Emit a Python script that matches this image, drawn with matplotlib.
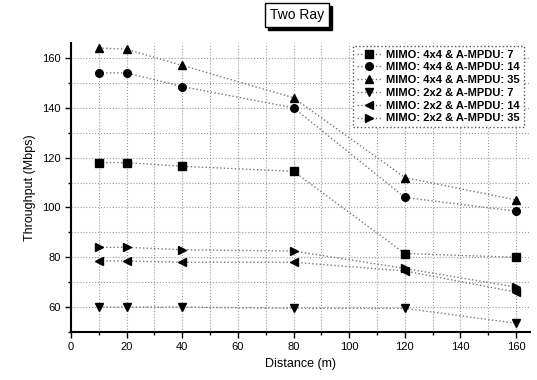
import matplotlib
matplotlib.use("Agg")
import matplotlib.pyplot as plt
from matplotlib.patches import Rectangle
from matplotlib.ticker import MultipleLocator

plt.rcParams['font.family'] = ['Liberation Sans', 'DejaVu Sans']

# distances (m)
distance = [10, 20, 40, 80, 120, 160]

# throughput (Mbps) per configuration
mimo4_ampdu7 = [118, 118, 116.5, 114.5, 81.5, 80]
mimo4_ampdu14 = [154, 154, 148.5, 140, 104, 98.5]
mimo4_ampdu35 = [164, 163.5, 157, 144, 112, 103]
mimo2_ampdu7 = [60, 60, 60, 59.5, 59.5, 53.5]
mimo2_ampdu14 = [78.5, 78.5, 78, 78, 74.5, 66]
mimo2_ampdu35 = [84, 84, 83, 82.5, 75.5, 68]

labels = ["MIMO: 4x4 & A-MPDU: 7", "MIMO: 4x4 & A-MPDU: 14",
          "MIMO: 4x4 & A-MPDU: 35", "MIMO: 2x2 & A-MPDU: 7",
          "MIMO: 2x2 & A-MPDU: 14", "MIMO: 2x2 & A-MPDU: 35"]
series = [mimo4_ampdu7, mimo4_ampdu14, mimo4_ampdu35,
          mimo2_ampdu7, mimo2_ampdu14, mimo2_ampdu35]
markers = ['s', 'o', '^', 'v', '<', '>']

fig = plt.figure(figsize=(5.37, 3.80), dpi=100)
ax = fig.add_axes([71 / 537, 48 / 380, 459 / 537, 289 / 380])

for vals, lab, m in zip(series, labels, markers):
    ax.plot(distance, vals, linestyle=':', color='#777777', linewidth=1.0,
            marker=m, markersize=5.5, markerfacecolor='black',
            markeredgecolor='black', label=lab)

ax.set_xlim(0, 165)
ax.set_ylim(50, 166)
ax.xaxis.set_major_locator(MultipleLocator(20))
ax.xaxis.set_minor_locator(MultipleLocator(10))
ax.yaxis.set_major_locator(MultipleLocator(20))
ax.yaxis.set_minor_locator(MultipleLocator(10))
ax.grid(True, which='both', linestyle=':', color='#999999', linewidth=0.8)
ax.tick_params(which='major', direction='out', length=4, width=1, labelsize=8)
ax.tick_params(which='minor', direction='out', length=2, width=1)

for side in ['top', 'right']:
    ax.spines[side].set_visible(False)
for side in ['left', 'bottom']:
    ax.spines[side].set_linewidth(1.5)

ax.set_xlabel("Distance (m)", fontsize=9)
ax.set_ylabel("Throughput (Mbps)", fontsize=9)

# title box with a drop shadow
title = fig.text(297 / 537, 1 - 15 / 380, "Two Ray", ha='center',
                 va='center', fontsize=10, zorder=5,
                 bbox=dict(boxstyle='square,pad=0.35', facecolor='white',
                           edgecolor='black', linewidth=1.0))
fig.canvas.draw()
bb = title.get_bbox_patch().get_window_extent()
fw, fh = fig.bbox.width, fig.bbox.height
fig.patches.append(Rectangle(((bb.x0 + 3) / fw, (bb.y0 - 3) / fh),
                             bb.width / fw, bb.height / fh,
                             transform=fig.transFigure, facecolor='black',
                             edgecolor='black', zorder=4))

leg = ax.legend(loc='upper right', bbox_to_anchor=(0.998, 1.01),
                prop={'size': 8, 'weight': 'bold'}, handlelength=2.2,
                labelspacing=0.25, borderpad=0.35, handletextpad=0.4,
                fancybox=False, framealpha=1)
leg.get_frame().set_edgecolor('#555555')
leg.get_frame().set_linestyle(':')
leg.get_frame().set_linewidth(1.0)

fig.savefig("out.png", dpi=100)
